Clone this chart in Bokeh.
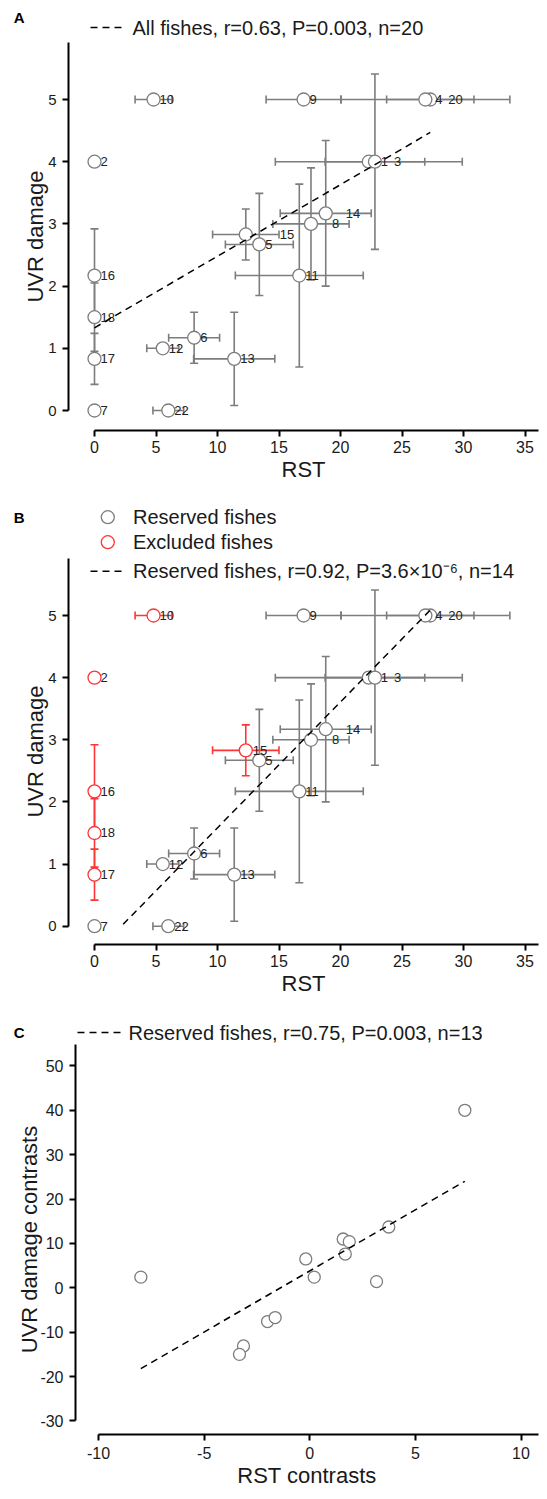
from bokeh.plotting import figure
from bokeh.models import ColumnDataSource, Whisker, TeeHead, Label, FixedTicker, Range1d
from bokeh.layouts import column
from bokeh.embed import file_html
from bokeh.resources import INLINE
from bokeh.core.properties import value

FONT = "Liberation Sans"
GREY = "#7d7d7d"
RED = "#ff3535"
TXT = "#1a1a1a"

# ---------------- data (panels A and B) ----------------
fish_id  = ["1", "2", "3", "4", "5", "6", "7", "8", "9", "10",
            "11", "12", "13", "14", "15", "16", "17", "18", "20", "22"]
rst      = [22.3, 0.0, 22.8, 27.3, 13.4, 8.1, 0.0, 17.6, 17.0, 4.8,
            16.65, 5.55, 11.36, 18.8, 12.3, 0.0, 0.0, 0.0, 26.9, 6.0]
rst_err  = [7.6, 0.0, 4.05, 3.55, 2.76, 2.07, 0.0, 3.1, 3.05, 1.5,
            5.2, 1.3, 3.3, 3.7, 2.7, 0.0, 0.0, 0.0, 6.87, 1.25]
uvr      = [4.0, 4.0, 4.0, 5.0, 2.67, 1.17, 0.0, 3.0, 5.0, 5.0,
            2.17, 1.0, 0.83, 3.17, 2.83, 2.17, 0.83, 1.5, 5.0, 0.0]
uvr_err  = [0.0, 0.0, 1.41, 0.0, 0.82, 0.41, 0.0, 0.9, 0.0, 0.0,
            1.47, 0.0, 0.75, 1.17, 0.41, 0.75, 0.41, 0.55, 0.0, 0.0]
excluded = [False, True, False, False, False, False, False, False, False, True,
            False, False, False, False, True, True, True, True, False, False]

# fitted regression lines (end points)
fit_all_x = [0.0, 27.3]
fit_all_y = [1.33, 4.47]
fit_res_x = [2.33, 27.26]
fit_res_y = [0.03, 5.08]

# ---------------- data (panel C) ----------------
contrast_rst = [7.34, 3.74, 1.58, 1.87, 1.68, -0.19, 0.21, 3.16, -8.0, -2.0, -1.64, -3.14, -3.33]
contrast_uvr = [40.0, 13.7, 11.0, 10.4, 7.6, 6.5, 2.4, 1.4, 2.4, -7.6, -6.7, -13.1, -15.0]
fit_con_x = [-8.0, 7.34]
fit_con_y = [-18.2, 24.0]

rst_ticks = [0, 5, 10, 15, 20, 25, 30, 35]
uvr_ticks = [0, 1, 2, 3, 4, 5]
con_x_ticks = [-10, -5, 0, 5, 10]
con_y_ticks = [-30, -20, -10, 0, 10, 20, 30, 40, 50]

legend_A = "All fishes, r=0.63, P=0.003, n=20"
legend_B1 = "Reserved fishes"
legend_B2 = "Excluded fishes"
legend_B3 = "Reserved fishes, r=0.92, P=3.6\u00d710\u207b\u2076, n=14"
legend_C = "Reserved fishes, r=0.75, P=0.003, n=13"

# label offsets (px) of the point numbers
label_dx_A = [12, 6, 19, 5, 6, 6, 6, 21, 6, 6, 6, 6, 6, 20, 34, 6, 6, 6, 23, 6]
label_dx_B = [12, 6, 19, 5, 6, 6, 6, 21, 6, 6, 6, 6, 6, 20, 7, 6, 6, 6, 23, 6]

W = 539
DASH = "7 5"
OX = 0            # observed horizontal offset of the layout on the page
FL, FR = 68, 538  # frame left / right (page px) of panels A, B and the strips
FLC = 75          # frame left of panel C


def no_align(p):
    try:
        p.frame_align = False
    except Exception:
        pass


def mapper(x0, xs, y0, ys):
    return (lambda px: (px - x0) / xs), (lambda py: (y0 - py) / ys)


def strip(top, bottom, letter, letter_y):
    """Full-width strip; data coords = page pixels. Panel letter is drawn as
    the single tick label of a bare left axis (so it may sit left of the frame)."""
    s = figure(width=W, height=bottom - top, x_range=Range1d(FL, FR),
               y_range=Range1d(bottom, top), output_backend="svg",
               toolbar_location=None, min_border_left=FL - OX,
               min_border_right=OX + W - FR, min_border_top=0, min_border_bottom=0,
               x_axis_location=None, y_axis_location="left")
    no_align(s)
    s.outline_line_color = None
    s.xgrid.visible = False
    s.ygrid.visible = False
    ax = s.yaxis[0]
    ax.ticker = FixedTicker(ticks=[letter_y])
    ax.major_label_overrides = {letter_y: letter}
    ax.axis_line_color = None
    ax.major_tick_line_color = None
    ax.minor_tick_line_color = None
    ax.major_tick_out = 0
    ax.major_tick_in = 0
    ax.major_label_standoff = FL - 24
    ax.major_label_text_font = FONT
    ax.major_label_text_font_size = "15px"
    ax.major_label_text_font_style = "bold"
    ax.major_label_text_color = "black"
    return s


def make_fig(top, bottom_page, frame_top, frame_bottom, frame_left, fx, fy):
    p = figure(width=W, height=bottom_page - top,
               x_range=Range1d(fx(frame_left), fx(FR)),
               y_range=Range1d(fy(frame_bottom), fy(frame_top)),
               output_backend="svg", toolbar_location=None,
               min_border_left=frame_left - OX, min_border_right=OX + W - FR,
               min_border_top=frame_top - top, min_border_bottom=bottom_page - frame_bottom)
    no_align(p)
    p.outline_line_color = None
    p.xgrid.visible = False
    p.ygrid.visible = False
    for ax in p.axis:
        ax.axis_line_width = 2
        ax.axis_line_color = "black"
        ax.major_tick_line_width = 2
        ax.major_tick_line_color = "black"
        ax.major_tick_out = 6
        ax.major_tick_in = 0
        ax.minor_tick_line_color = None
        ax.major_label_text_font = FONT
        ax.major_label_text_color = TXT
        ax.axis_label_text_font = FONT
        ax.axis_label_text_font_style = "normal"
        ax.axis_label_text_color = TXT
        ax.axis_label_text_font_size = "22px"
    return p


def add_bars(p, xs, ys, xe, ye, color):
    hb = [(x, y, e) for x, y, e in zip(xs, ys, xe) if e > 0]
    vb = [(x, y, e) for x, y, e in zip(xs, ys, ye) if e > 0]
    if hb:
        src = ColumnDataSource(dict(base=[b[1] for b in hb],
                                    lower=[b[0] - b[2] for b in hb],
                                    upper=[b[0] + b[2] for b in hb]))
        p.add_layout(Whisker(source=src, base="base", lower="lower", upper="upper",
                             dimension="width", line_color=color, line_width=1.6,
                             upper_head=TeeHead(size=8, line_color=color, line_width=1.6),
                             lower_head=TeeHead(size=8, line_color=color, line_width=1.6)))
    if vb:
        src = ColumnDataSource(dict(base=[b[0] for b in vb],
                                    lower=[b[1] - b[2] for b in vb],
                                    upper=[b[1] + b[2] for b in vb]))
        p.add_layout(Whisker(source=src, base="base", lower="lower", upper="upper",
                             dimension="height", line_color=color, line_width=1.6,
                             upper_head=TeeHead(size=8, line_color=color, line_width=1.6),
                             lower_head=TeeHead(size=8, line_color=color, line_width=1.6)))


def add_points(p, xs, ys, color, size=13):
    p.scatter(xs, ys, marker="circle", size=size, fill_color="white",
              line_color=color, line_width=1.3)


def add_numbers(p, dx):
    src = ColumnDataSource(dict(x=rst, y=uvr, t=fish_id, dx=dx))
    p.text(x="x", y="y", text="t", x_offset="dx", source=src,
           text_font=value(FONT), text_font_size=value("13px"),
           text_baseline="middle", text_align="left", text_color="#222222")


def rst_uvr_axes(p):
    p.xaxis.ticker = FixedTicker(ticks=rst_ticks)
    p.yaxis.ticker = FixedTicker(ticks=uvr_ticks)
    p.xaxis.bounds = (0, p.x_range.end)
    p.yaxis.bounds = (0, p.y_range.end)
    p.xaxis.axis_label = "RST"
    p.yaxis.axis_label = "UVR damage"
    p.xaxis.major_label_text_font_size = "16px"
    p.yaxis.major_label_text_font_size = "15px"
    p.xaxis.major_label_standoff = 4
    p.yaxis.major_label_standoff = 6
    p.xaxis.axis_label_standoff = 1
    p.yaxis.axis_label_standoff = -3


def text_at(p, x, y, t, size="20px"):
    p.add_layout(Label(x=x, y=y, text=t, text_font=FONT, text_font_size=size,
                       text_baseline="middle", text_align="left", text_color=TXT))


def dash_key(p, x0, x1, y):
    p.line([x0, x1], [y, y], line_dash=DASH, line_width=1.5, line_color="black")


# ================= Panel A =================
sA = strip(0, 40, "A", 17)
dash_key(sA, 90, 125, 27)
text_at(sA, 132, 27, legend_A)

fxA, fyA = mapper(94, 12.3, 410, 62.2)
pA = make_fig(40, 494, 42, 430, FL, fxA, fyA)
rst_uvr_axes(pA)
add_bars(pA, rst, uvr, rst_err, uvr_err, GREY)
add_points(pA, rst, uvr, GREY)
add_numbers(pA, label_dx_A)
pA.line(fit_all_x, fit_all_y, line_dash=DASH, line_width=1.5, line_color="black")

# ================= Panel B =================
sB = strip(494, 556, "B", 517)
sB.scatter([107.3], [516.7], marker="circle", size=13, fill_color="white",
           line_color=GREY, line_width=1.3)
sB.scatter([107.3], [541.7], marker="circle", size=13, fill_color="white",
           line_color=RED, line_width=1.3)
text_at(sB, 132.5, 516.7, legend_B1)
text_at(sB, 132.5, 541.7, legend_B2)

fxB, fyB = mapper(94, 12.3, 925.7, 62.14)
pB = make_fig(556, 1008, 558, 944, FL, fxB, fyB)
rst_uvr_axes(pB)
res_i = [i for i, e in enumerate(excluded) if not e]
exc_i = [i for i, e in enumerate(excluded) if e]
add_bars(pB, [rst[i] for i in res_i], [uvr[i] for i in res_i],
         [rst_err[i] for i in res_i], [uvr_err[i] for i in res_i], GREY)
add_bars(pB, [rst[i] for i in exc_i], [uvr[i] for i in exc_i],
         [rst_err[i] for i in exc_i], [uvr_err[i] for i in exc_i], RED)
add_points(pB, [rst[i] for i in res_i], [uvr[i] for i in res_i], GREY)
add_points(pB, [rst[i] for i in exc_i], [uvr[i] for i in exc_i], RED)
add_numbers(pB, label_dx_B)
pB.line(fit_res_x, fit_res_y, line_dash=DASH, line_width=1.5, line_color="black")
dash_key(pB, fxB(90), fxB(125), fyB(570.7))
text_at(pB, fxB(132.5), fyB(570.7), legend_B3)

# ================= Panel C =================
sC = strip(1008, 1043, "C", 1032)
dash_key(sC, 77, 122, 1032)
text_at(sC, 128, 1032, legend_C)

fxC, fyC = mapper(309.3, 21.12, 1287.3, 4.4375)
pC = make_fig(1043, 1491, 1044, 1434, FLC, fxC, fyC)
pC.xaxis.ticker = FixedTicker(ticks=con_x_ticks)
pC.yaxis.ticker = FixedTicker(ticks=con_y_ticks)
pC.xaxis.major_label_overrides = {t: str(t) for t in con_x_ticks}
pC.yaxis.major_label_overrides = {t: str(t) for t in con_y_ticks}
pC.xaxis.bounds = (-10, pC.x_range.end)
pC.yaxis.bounds = (-30, pC.y_range.end)
pC.xaxis.axis_label = "RST contrasts"
pC.yaxis.axis_label = "UVR damage contrasts"
pC.xaxis.major_label_text_font_size = "16px"
pC.yaxis.major_label_text_font_size = "16px"
pC.xaxis.major_label_standoff = 6
pC.yaxis.major_label_standoff = 6
pC.xaxis.axis_label_standoff = 1
pC.yaxis.axis_label_standoff = -5
add_points(pC, contrast_rst, contrast_uvr, GREY, size=12)
pC.line(fit_con_x, fit_con_y, line_dash=DASH, line_width=1.5, line_color="black")

layout = column(sA, pA, sB, pB, sC, pC, spacing=0)
open("out.html", "w").write(file_html(layout, INLINE))
